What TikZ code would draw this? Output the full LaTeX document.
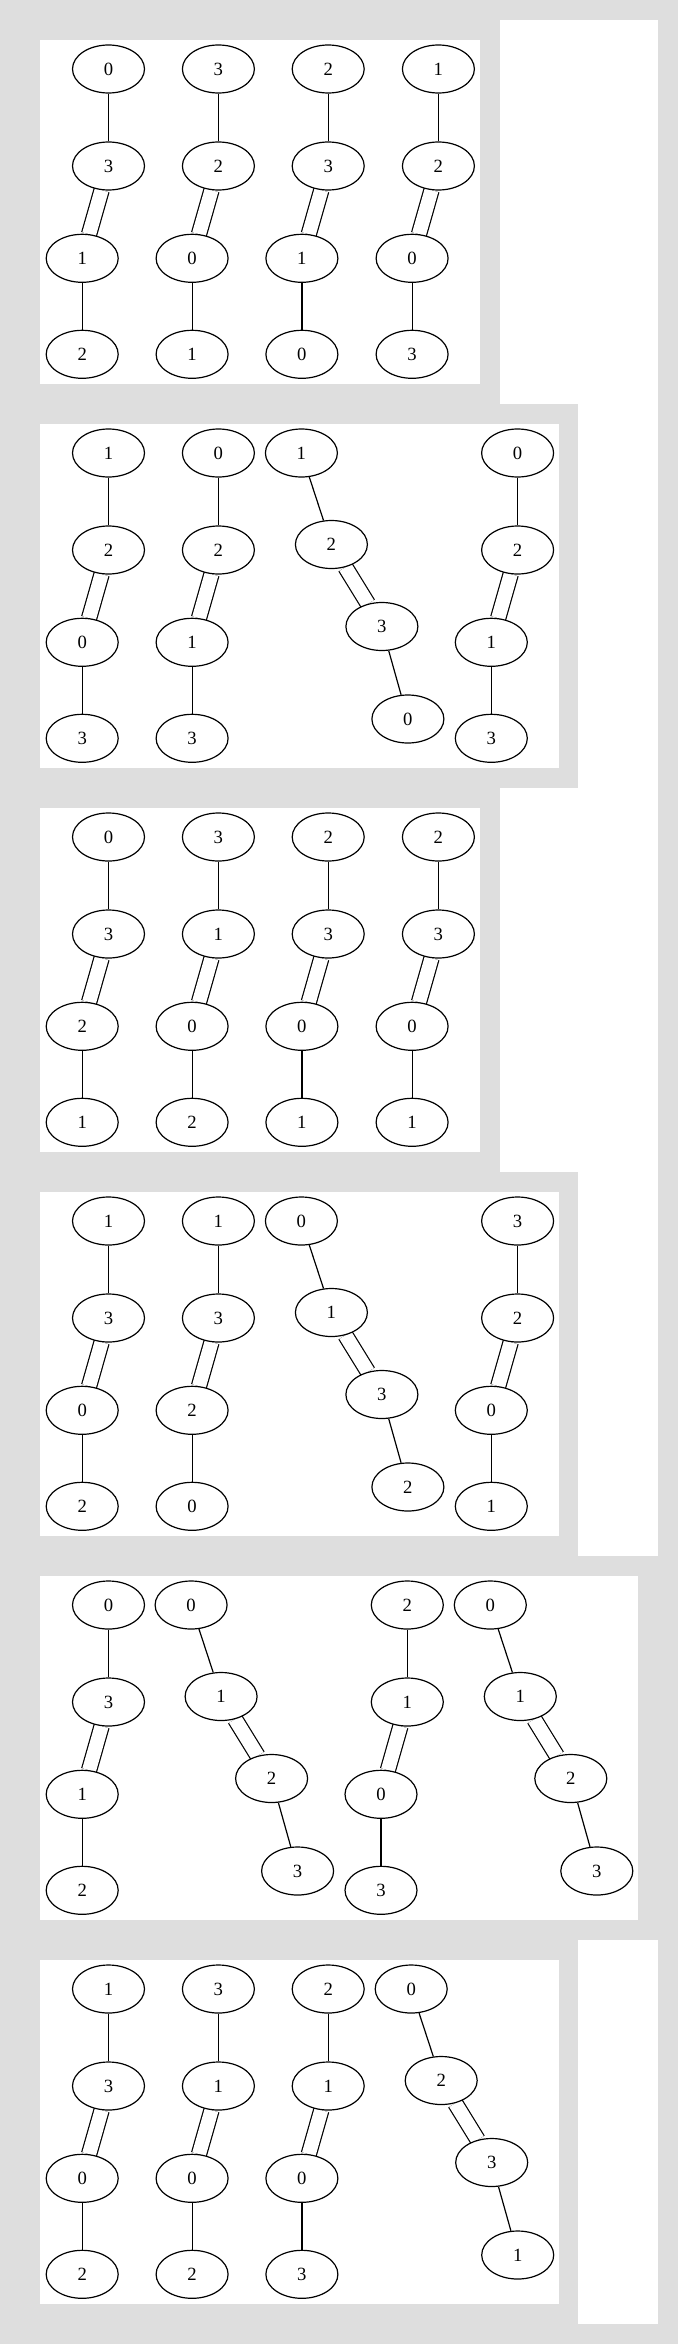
\documentclass[tikz,border=0pt]{standalone}
\usepackage{fontspec}
\setmainfont{Liberation Serif}
\usepackage{xcolor}
\usetikzlibrary{
    shapes.geometric,
    positioning
}
\definecolor{pagegray}{RGB}{222,222,222}
\pgfdeclarelayer{sheets}
\pgfdeclarelayer{edges}
\pgfsetlayers{sheets,edges,main}

% straight chain: upper pair sits a little right of the lower pair
\newcommand{\chainS}[7]{
    \node[vertex] (#1a) at (#2, #3+29) {#4};
    \node[vertex] (#1b) at (#2, #3+126) {#5};
    \node[vertex] (#1c) at (#2-26.3, #3+218.3) {#6};
    \node[vertex] (#1d) at (#2-26.3, #3+314.3) {#7};
    \begin{pgfonlayer}{edges}
        \draw[bond] (#1a) -- (#1b);
        \draw[dbond] (#1b) -- (#1c);
        \draw[bond] (#1c) -- (#1d);
    \end{pgfonlayer}
}

% slanted chain: steps down to the right
\newcommand{\chainD}[7]{
    \node[vertex] (#1a) at (#2, #3+29) {#4};
    \node[vertex] (#1b) at (#2+30, #3+120.5) {#5};
    \node[vertex] (#1c) at (#2+80.5, #3+202.5) {#6};
    \node[vertex] (#1d) at (#2+106.5, #3+295) {#7};
    \begin{pgfonlayer}{edges}
        \draw[bond] (#1a) -- (#1b);
        \draw[dbond] (#1b) -- (#1c);
        \draw[bond] (#1c) -- (#1d);
    \end{pgfonlayer}
}

\begin{document}
\begin{tikzpicture}[
        x=0.75pt, y=-0.75pt,
        vertex/.style={ellipse, draw, fill=white, line width=0.9pt, minimum width=54pt, minimum height=36pt, inner sep=0pt, font=\fontsize{14pt}{16pt}\selectfont},
        bond/.style={line width=0.9pt},
        dbond/.style={line width=0.9pt, double, double distance=10.5pt},
        sheet/.style={fill=white}
    ]
        \useasboundingbox (0,0) rectangle (678,2344);

        % Page and panels
        \begin{pgfonlayer}{sheets}
            \fill[pagegray] (0,0) rectangle (678,2344);
            \fill[sheet] (500,20) rectangle (658,404);
            \fill[sheet] (578,404) rectangle (658,1556);
            \fill[sheet] (500,788) rectangle (578,1172);
            \fill[sheet] (578,1940) rectangle (658,2324);
            \fill[sheet] (40,40) rectangle (480,384);
            \fill[sheet] (40,424) rectangle (559,768);
            \fill[sheet] (40,808) rectangle (480,1152);
            \fill[sheet] (40,1192) rectangle (559,1536);
            \fill[sheet] (40,1576) rectangle (638,1920);
            \fill[sheet] (40,1960) rectangle (559,2304);
        \end{pgfonlayer}

        % Panel 1
        \chainS{pa1}{108.5}{40}{0}{3}{1}{2}
        \chainS{pa2}{218.4}{40}{3}{2}{0}{1}
        \chainS{pa3}{328.2}{40}{2}{3}{1}{0}
        \chainS{pa4}{438.4}{40}{1}{2}{0}{3}

        % Panel 2
        \chainS{pb1}{108.5}{424}{1}{2}{0}{3}
        \chainS{pb2}{218.4}{424}{0}{2}{1}{3}
        \chainD{pb3}{301.4}{424}{1}{2}{3}{0}
        \chainS{pb4}{517.6}{424}{0}{2}{1}{3}

        % Panel 3
        \chainS{pc1}{108.5}{808}{0}{3}{2}{1}
        \chainS{pc2}{218.4}{808}{3}{1}{0}{2}
        \chainS{pc3}{328.2}{808}{2}{3}{0}{1}
        \chainS{pc4}{438.4}{808}{2}{3}{0}{1}

        % Panel 4
        \chainS{pd1}{108.5}{1192}{1}{3}{0}{2}
        \chainS{pd2}{218.4}{1192}{1}{3}{2}{0}
        \chainD{pd3}{301.4}{1192}{0}{1}{3}{2}
        \chainS{pd4}{517.6}{1192}{3}{2}{0}{1}

        % Panel 5
        \chainS{pe1}{108.5}{1576}{0}{3}{1}{2}
        \chainD{pe2}{191.1}{1576}{0}{1}{2}{3}
        \chainS{pe3}{407.3}{1576}{2}{1}{0}{3}
        \chainD{pe4}{490.3}{1576}{0}{1}{2}{3}

        % Panel 6
        \chainS{pf1}{108.5}{1960}{1}{3}{0}{2}
        \chainS{pf2}{218.4}{1960}{3}{1}{0}{2}
        \chainS{pf3}{328.2}{1960}{2}{1}{0}{3}
        \chainD{pf4}{411.2}{1960}{0}{2}{3}{1}
    \end{tikzpicture}
\end{document}
